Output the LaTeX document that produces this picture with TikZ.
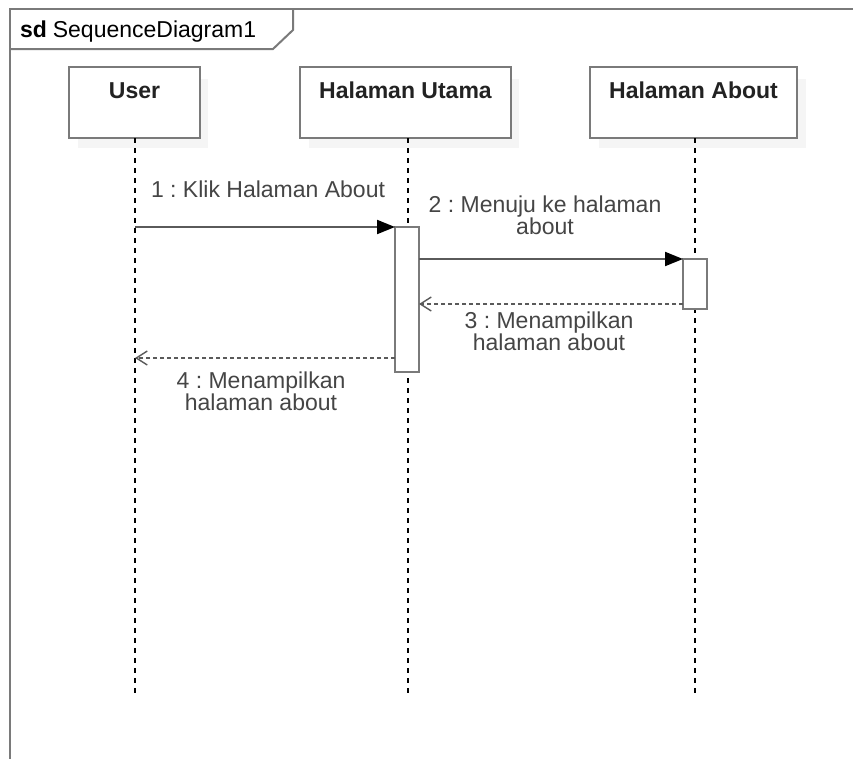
\documentclass[tikz,border=0pt]{standalone}
\usepackage{fontspec}
\setmainfont{Liberation Sans}
\usetikzlibrary{arrows.meta}
\frenchspacing
\definecolor{frameline}{HTML}{7A7A7A}
\definecolor{msgline}{HTML}{5A5A5A}
\definecolor{labeltext}{HTML}{454545}
\definecolor{nametext}{HTML}{222222}
\definecolor{shadowgray}{HTML}{F5F5F5}
\begin{document}
\begin{tikzpicture}[x=1pt,y=-1pt,
  every node/.style={inner sep=0pt,outer sep=0pt},
  headbox/.style={draw=frameline,line width=2pt,fill=white,minimum height=71pt,anchor=north west},
  headname/.style={font=\fontsize{23}{24}\selectfont\bfseries,text=nametext,anchor=base},
  lifeline/.style={draw=black,line width=1.4pt,dash pattern=on 5pt off 5pt},
  actbar/.style={draw=frameline,line width=2pt,fill=white,minimum width=24pt},
  callmsg/.style={draw=msgline,line width=2pt,-{Triangle[length=18pt,width=14pt,fill=black,color=black]}},
  replymsg/.style={draw=msgline,line width=1.8pt,dash pattern=on 4pt off 3pt,
    -{Straight Barb[length=11pt,width=14pt,line width=1.4pt]}},
  msglabel/.style={font=\fontsize{23}{22}\selectfont,text=labeltext,align=center,anchor=base}]
\useasboundingbox (0,0) rectangle (853,758);
\fill[white] (0,0) rectangle (853,758);

% interaction frame with its name tab
\draw[frameline,line width=2pt] (10,770) -- (10,9) -- (870,9);
\draw[frameline,line width=2pt] (10,49) -- (273,49) -- (293,30) -- (293,9);
\node[anchor=base west,font=\fontsize{23}{24}\selectfont,text=black] (title) at (20,37)
  {\textbf{sd}\hspace{6pt}SequenceDiagram1};

% soft shadows behind the lifeline heads
\fill[shadowgray] (78,79) rectangle (208,148);
\fill[shadowgray] (309,79) rectangle (519,148);
\fill[shadowgray] (599,79) rectangle (806,148);

% lifeline heads
\node[headbox,minimum width=131pt] (user) at (69,67) {};
\node[headbox,minimum width=211pt] (utama) at (300,67) {};
\node[headbox,minimum width=207pt] (about) at (590,67) {};
\node[headname] (userName) at (134.5,98) {User};
\node[headname] (utamaName) at (405.5,98) {Halaman Utama};
\node[headname] (aboutName) at (693.5,98) {Halaman About};

% lifeline ends
\coordinate (userEnd) at (135,697);
\coordinate (utamaEnd) at (408,697);
\coordinate (aboutEnd) at (695,697);
\draw[lifeline] (135,138) -- (userEnd);
\draw[lifeline] (408,138) -- (utamaEnd);
\draw[lifeline] (695,138) -- (aboutEnd);

% activation bars
\node[actbar,minimum height=145pt] (actUtama) at (407,299.5) {};
\node[actbar,minimum height=50pt] (actAbout) at (695,284) {};

% message anchor points on the user lifeline
\coordinate (userCall) at (135,227);
\coordinate (userReply) at (135,358);

% messages
\draw[callmsg] (userCall) -- (actUtama.north west);
\draw[callmsg] (actUtama.east |- 0,259) -- (actAbout.north west);
\draw[replymsg] (actAbout.west |- 0,304) -- (actUtama.east |- 0,304);
\draw[replymsg] (actUtama.west |- 0,358) -- (userReply);

% message labels (base anchor sits on the last line)
\node[msglabel] (lbl1) at (268,197) {1 : Klik Halaman About};
\node[msglabel] (lbl2) at (545,234) {2 : Menuju ke halaman\\about};
\node[msglabel] (lbl3) at (549,350) {3 : Menampilkan\\halaman about};
\node[msglabel] (lbl4) at (261,410) {4 : Menampilkan\\halaman about};
\end{tikzpicture}
\end{document}
